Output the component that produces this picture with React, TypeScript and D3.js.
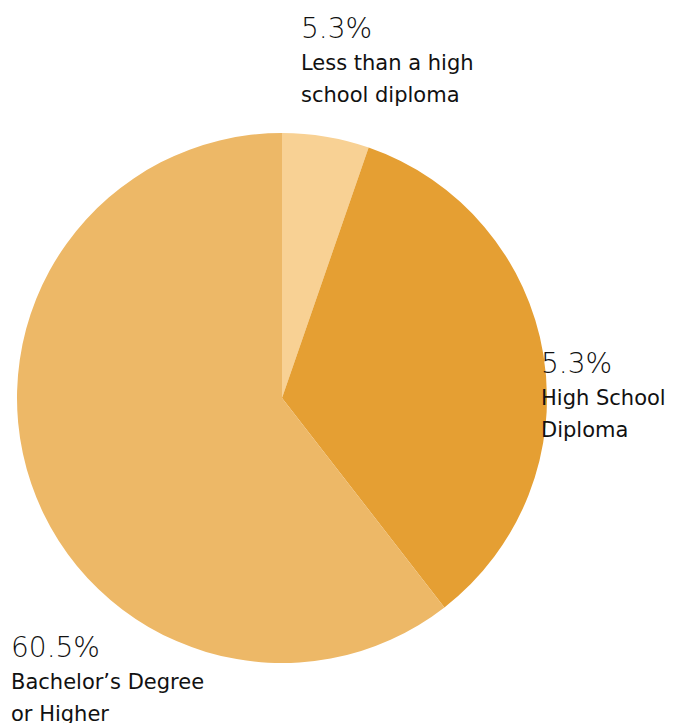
import React from "react";
import * as d3 from "d3";

const categories = ["Less than a high school diploma", "High School Diploma", "Bachelor’s Degree or Higher"];
const values = [5.3, 34.2, 60.5];
const percentLabels = ["5.3%", "5.3%", "60.5%"];
const labelLines = [["Less than a high", "school diploma"], ["High School", "Diploma"], ["Bachelor’s Degree", "or Higher"]];
const colors = ["#F8D194", "#E59F33", "#EDB867"];

const W = 683, H = 723;
const cx = 282, cy = 398, R = 265;
const labelPos = [
  { x: 301, y: 38 },
  { x: 541, y: 373 },
  { x: 11, y: 657 },
];

export default function App() {
  const pie = d3.pie<number>().sort(null).value((d) => d);
  const arcs = pie(values);
  const arc = d3.arc<d3.PieArcDatum<number>>().innerRadius(0).outerRadius(R);
  const font = "'DejaVu Sans', sans-serif";
  return (
    <svg width={W} height={H} style={{ position: "absolute", left: 0, top: 0 }}>
      <g transform={`translate(${cx},${cy})`}>
        {arcs.map((a, i) => (
          <path key={categories[i]} d={arc(a) || ""} fill={colors[i]} />
        ))}
      </g>
      {labelPos.map((p, i) => (
        <g key={i} fill="#111" fontFamily={font}>
          <text x={p.x} y={p.y} fontSize={28} fontWeight={200}>{percentLabels[i]}</text>
          {labelLines[i].map((l, j) => (
            <text key={j} x={p.x} y={p.y + 32 * (j + 1)} fontSize={21} fontWeight={400}>{l}</text>
          ))}
        </g>
      ))}
    </svg>
  );
}
